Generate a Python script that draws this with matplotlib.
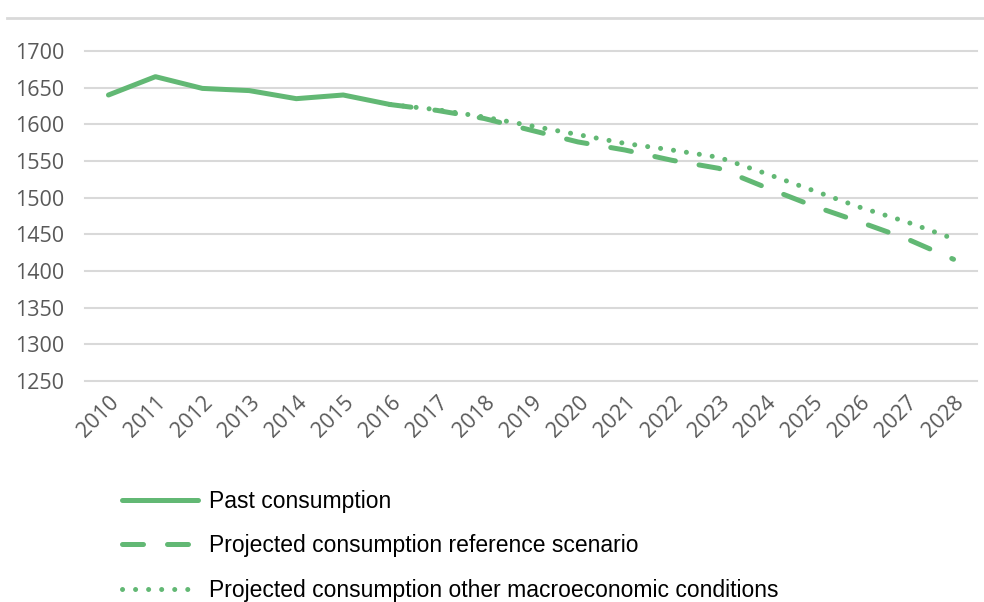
import matplotlib
matplotlib.use("Agg")
import matplotlib.pyplot as plt
from matplotlib.lines import Line2D

years = [str(y) for y in range(2010, 2029)]
past_years = years[:7]
past_values = [1640, 1665, 1649, 1646, 1635, 1640, 1627]
proj_years = years[6:]
ref_values = [1627, 1619, 1608, 1592, 1576, 1565, 1551, 1540, 1514, 1489, 1467, 1444, 1416]
other_values = [1627, 1620, 1610, 1598, 1586, 1574, 1565, 1555, 1533, 1510, 1487, 1467, 1444]
y_ticks = [1250, 1300, 1350, 1400, 1450, 1500, 1550, 1600, 1650, 1700]

green = "#62b874"
W, H = 984, 602
fig = plt.figure(figsize=(W / 100, H / 100), dpi=100)
left, right, top, bottom = 85, 977, 51, 381
ax = fig.add_axes([left / W, 1 - bottom / H, (right - left) / W, (bottom - top) / H])

idx = {y: i for i, y in enumerate(years)}
lw = 3.6
ax.plot([idx[y] for y in past_years], past_values, color=green, lw=lw,
        solid_capstyle="round", solid_joinstyle="round", label="Past consumption")
ax.plot([idx[y] for y in proj_years], ref_values, color=green, lw=lw,
        dashes=(4.2, 4.8), dash_capstyle="round", label="Projected consumption reference scenario")
ax.plot([idx[y] for y in proj_years], other_values, color=green, lw=3.6,
        dashes=(0.01, 2.6), dash_capstyle="round",
        label="Projected consumption other macroeconomic conditions")

ax.set_xlim(-0.5, len(years) - 0.5)
ax.set_ylim(1250, 1700)
ax.set_yticks(y_ticks)
ax.set_xticks(range(len(years)))
ax.set_xticklabels(years, rotation=45, ha="right", va="top", rotation_mode="anchor")
for s in ax.spines.values():
    s.set_visible(False)
ax.tick_params(axis="both", length=0, colors="#595959", labelsize=15.5)
ax.tick_params(axis="y", pad=15)
ax.tick_params(axis="x", pad=8)
for lab in ax.get_xticklabels() + ax.get_yticklabels():
    lab.set_fontfamily("Open Sans")
ax.yaxis.grid(True, color="#d9d9d9", lw=1.5)
ax.set_axisbelow(True)
for gl in ax.get_ygridlines():
    gl.set_clip_on(False)

# top separator line
fig.add_artist(Line2D([7 / W, 1], [1 - 18 / H, 1 - 18 / H], color="#d9d9d9", lw=2))

leg = fig.legend(loc="upper left", bbox_to_anchor=(101 / W, 1 - 469 / H),
                 frameon=False, prop={"family": "Liberation Sans", "size": 16.5},
                 handlelength=3.35, handletextpad=0.48, labelspacing=0.95)

fig.savefig("out.png", dpi=100)
